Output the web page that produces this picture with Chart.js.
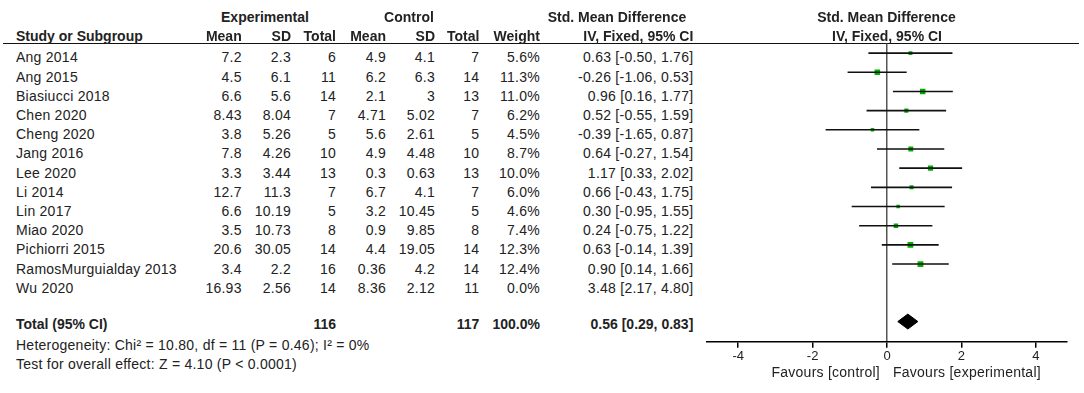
<!DOCTYPE html>
<html>
<head>
<meta charset="utf-8">
<script src="https://cdn.jsdelivr.net/npm/chart.js@4.4.1/dist/chart.umd.min.js"></script>
<style>
  html, body { margin:0; padding:0; background:#fff; }
  #wrap { position:relative; width:1084px; height:393px; overflow:hidden; font-family:"Liberation Sans", Arial, sans-serif; color:#222; }
  .t { position:absolute; font-size:14px; line-height:16px; white-space:nowrap; letter-spacing:0.25px; }
  .b { font-weight:bold; letter-spacing:0; }
  #plot { position:absolute; left:700px; top:0; }
  #hline { position:absolute; left:3px; top:43px; width:1076px; height:0; border-top:1.5px solid #111; }
</style>
</head>
<body>
<div id="wrap">
  <div id="hline"></div>
  <canvas id="plot" width="384" height="393"></canvas>
</div>
<script>
// Forest plot - Std. Mean Difference, IV, Fixed
// Libreria: Chart.js

const studies = ['Ang 2014', 'Ang 2015', 'Biasiucci 2018', 'Chen 2020', 'Cheng 2020', 'Jang 2016', 'Lee 2020',
  'Li 2014', 'Lin 2017', 'Miao 2020', 'Pichiorri 2015', 'RamosMurguialday 2013', 'Wu 2020'];
const expMean = [7.2, 4.5, 6.6, 8.43, 3.8, 7.8, 3.3, 12.7, 6.6, 3.5, 20.6, 3.4, 16.93];
const expSD = [2.3, 6.1, 5.6, 8.04, 5.26, 4.26, 3.44, 11.3, 10.19, 10.73, 30.05, 2.2, 2.56];
const expN = [6, 11, 14, 7, 5, 10, 13, 7, 5, 8, 14, 16, 14];
const ctlMean = [4.9, 6.2, 2.1, 4.71, 5.6, 4.9, 0.3, 6.7, 3.2, 0.9, 4.4, 0.36, 8.36];
const ctlSD = [4.1, 6.3, 3, 5.02, 2.61, 4.48, 0.63, 4.1, 10.45, 9.85, 19.05, 4.2, 2.12];
const ctlN = [7, 14, 13, 7, 5, 10, 13, 7, 5, 8, 14, 14, 11];
const weights = [5.6, 11.3, 11.0, 6.2, 4.5, 8.7, 10.0, 6.0, 4.6, 7.4, 12.3, 12.4, 0.0];
const smd = [0.63, -0.26, 0.96, 0.52, -0.39, 0.64, 1.17, 0.66, 0.30, 0.24, 0.63, 0.90, 3.48];
const ciLo = [-0.50, -1.06, 0.16, -0.55, -1.65, -0.27, 0.33, -0.43, -0.95, -0.75, -0.14, 0.14, 2.17];
const ciHi = [1.76, 0.53, 1.77, 1.59, 0.87, 1.54, 2.02, 1.75, 1.55, 1.22, 1.39, 1.66, 4.80];

const totalExpN = 116;
const totalCtlN = 117;
const totalEst = 0.56;
const totalLo = 0.29;
const totalHi = 0.83;

const xTicks = [-4, -2, 0, 2, 4];

const heterogeneityText = 'Heterogeneity: Chi\u00b2 = 10.80, df = 11 (P = 0.46); I\u00b2 = 0%';
const overallText = 'Test for overall effect: Z = 4.10 (P < 0.0001)';

//-----TEXT
const wrap = document.getElementById('wrap');
function put(txt, x, base, align, bold){
  var d = document.createElement('div');
  d.className = 't' + (bold ? ' b' : '');
  d.textContent = txt;
  d.style.top = (base - 12.85) + 'px';
  if (align === 'right') {
    d.style.right = (1084 - x) + 'px';
  } else if (align === 'center') {
    d.style.left = (x - 200) + 'px';
    d.style.width = '400px';
    d.style.textAlign = 'center';
  } else {
    d.style.left = x + 'px';
  }
  wrap.appendChild(d);
}

// column right edges
const cols = [241.7, 291, 336, 386, 435, 479.3, 540, 693.3];

// headers
put('Experimental', 265, 22, 'center', true);
put('Control', 409, 22, 'center', true);
put('Std. Mean Difference', 617, 22, 'center', true);
put('Std. Mean Difference', 886.5, 22, 'center', true);
put('Study or Subgroup', 16, 40.7, 'left', true);
['Mean', 'SD', 'Total', 'Mean', 'SD', 'Total', 'Weight', 'IV, Fixed, 95% CI'].forEach(function(h, k){
  put(h, cols[k], 40.7, 'right', true);
});
put('IV, Fixed, 95% CI', 887, 40.7, 'center', true);

// rows
studies.forEach(function(s, i){
  var base = 62.3 + 19.2 * i;
  put(s, 16, base, 'left', false);
  var vals = [expMean[i], expSD[i], expN[i], ctlMean[i], ctlSD[i], ctlN[i],
    weights[i].toFixed(1) + '%',
    smd[i].toFixed(2) + ' [' + ciLo[i].toFixed(2) + ', ' + ciHi[i].toFixed(2) + ']'];
  vals.forEach(function(v, k){ put(String(v), cols[k], base, 'right', false); });
});

// total
put('Total (95% CI)', 16, 329.3, 'left', true);
put(String(totalExpN), cols[2], 329.3, 'right', true);
put(String(totalCtlN), cols[5], 329.3, 'right', true);
put('100.0%', cols[6], 329.3, 'right', true);
put(totalEst.toFixed(2) + ' [' + totalLo.toFixed(2) + ', ' + totalHi.toFixed(2) + ']', cols[7], 329.3, 'right', true);
put(heterogeneityText, 16, 350, 'left', false);
put(overallText, 16, 369, 'left', false);
put('Favours [control]', 880, 377.3, 'right', false);
put('Favours [experimental]', 893, 377.3, 'left', false);

//-----GRAPHIC
const totalRow = studies.length + 1;
let ciData = [];
let sqData = [];
let sqRadius = [];
studies.forEach(function(s, i){
  if (weights[i] > 0) {
    ciData.push({x: ciLo[i], y: i}, {x: ciHi[i], y: i}, {x: ciHi[i], y: null});
    sqData.push({x: smd[i], y: i});
    sqRadius.push(1.65 * Math.sqrt(weights[i]) / Math.SQRT2);
  }
});
const dh = 0.39;
const diamond = [
  {x: totalLo, y: totalRow}, {x: totalEst, y: totalRow - dh},
  {x: totalHi, y: totalRow}, {x: totalEst, y: totalRow + dh}, {x: totalLo, y: totalRow}
];

let chart1 = new Chart(document.getElementById('plot').getContext('2d'), {
  type: 'scatter',
  data: {
    datasets: [
      { data: ciData, showLine: true, spanGaps: false, pointRadius: 0, borderColor: '#111', borderWidth: 1.6 },
      { data: sqData, pointStyle: 'rect', pointRadius: sqRadius, backgroundColor: '#00b000', borderWidth: 0 },
      { data: diamond, showLine: true, fill: 'shape', tension: 0, pointRadius: 0,
        borderColor: '#000', backgroundColor: '#000', borderWidth: 1 }
    ]
  },
  options: {
    responsive: false,
    animation: false,
    devicePixelRatio: 1,
    layout: { padding: { left: 7, right: 17, top: 43.5, bottom: 21.3 } },
    plugins: { legend: { display: false }, tooltip: { enabled: false } },
    scales: {
      x: {
        type: 'linear', min: -4.84, max: 4.84,
        afterBuildTicks: function(scale){ scale.ticks = xTicks.map(function(v){ return {value: v}; }); },
        afterFit: function(scale){ scale.height = 30; },
        border: { display: true, color: '#000', width: 1.5 },
        grid: {
          color: function(ctx){ return ctx.tick && ctx.tick.value === 0 ? '#555' : 'rgba(0,0,0,0)'; },
          tickColor: '#000', tickLength: 6, lineWidth: 1.5
        },
        ticks: { color: '#222', padding: 1, font: { family: 'Liberation Sans', size: 13 } }
      },
      y: { type: 'linear', min: -0.5, max: 15.05, reverse: true, display: false }
    }
  }
});
</script>
</body>
</html>
